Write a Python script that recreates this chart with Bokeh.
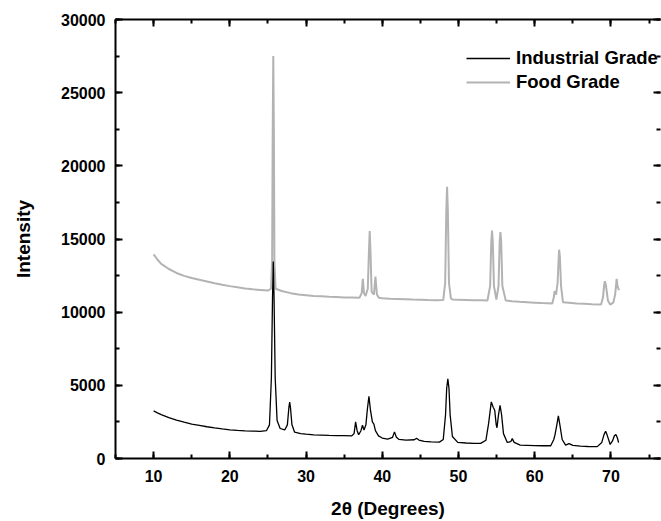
from bokeh.plotting import figure
from bokeh.models import (Range1d, LinearAxis, SingleIntervalTicker, Legend, LegendItem)
from bokeh.embed import file_html
from bokeh.resources import INLINE

# ---- data ----
ind_x = [10.0, 10.5, 11.0, 12.0, 13.0, 14.0, 15.0, 16.0, 17.0, 18.0, 19.0, 20.0, 21.0, 22.0, 23.0, 24.0,
         24.8, 25.2, 25.45, 25.6, 25.7, 25.8, 25.95, 26.2, 26.6, 27.2, 27.55, 27.75, 27.85, 27.95, 28.15,
         28.5, 29.3, 30.0, 31.0, 32.0, 33.0, 34.0, 35.0, 36.0, 36.3, 36.5, 36.7, 36.9, 37.2, 37.4, 37.6,
         37.85, 38.05, 38.25, 38.45, 38.7, 38.9, 39.1, 39.5, 40.0, 40.7, 41.35, 41.6, 41.85, 42.2, 43.1,
         44.2, 44.5, 44.8, 45.5, 46.4, 47.5, 48.0, 48.3, 48.45, 48.6, 48.75, 48.9, 49.2, 49.9, 51.0, 52.0,
         52.9, 53.6, 53.95, 54.3, 54.55, 54.75, 54.95, 55.05, 55.25, 55.45, 55.65, 55.9, 56.4, 56.85,
         57.05, 57.3, 58.1, 59.0, 60.0, 61.0, 62.1, 62.5, 62.65, 62.9, 63.1, 63.3, 63.6, 64.05, 64.5,
         65.0, 66.0, 67.0, 68.2, 68.8, 69.1, 69.3, 69.5, 69.9, 70.2, 70.45, 70.65, 70.85, 71.0]
ind_y = [3250, 3120, 3000, 2800, 2620, 2480, 2350, 2260, 2170, 2090, 2020, 1960, 1920, 1890, 1870, 1860,
         1900, 2300, 5500, 11000, 13470, 11000, 5500, 2600, 2050, 1950, 2300, 3500, 3860, 3500, 2300,
         1800, 1700, 1660, 1620, 1600, 1580, 1570, 1560, 1550, 1700, 2500, 1900, 1620, 1900, 2270, 1950,
         2300, 3400, 4250, 3300, 2500, 2350, 1900, 1550, 1400, 1330, 1450, 1820, 1450, 1300, 1250,
         1280, 1380, 1260, 1170, 1140, 1120, 1300, 3000, 4800, 5450, 4800, 3000, 1500, 1100, 1060, 1040,
         1030, 1250, 2400, 3870, 3500, 3300, 2300, 2100, 3000, 3640, 3000, 1700, 1100, 1150,
         1360, 1100, 920, 900, 880, 870, 870, 1300, 1600, 2300, 2910, 2300, 1300, 920, 1020,
         900, 850, 820, 810, 1100, 1650, 1860, 1600, 960, 1200, 1550, 1640, 1400, 1090]

food_x = [10.0, 10.5, 11.0, 12.0, 13.0, 14.0, 15.0, 16.0, 17.0, 18.0, 19.0, 20.0, 21.0, 22.0, 23.0,
          24.0, 25.0, 25.4, 25.55, 25.62, 25.7, 25.78, 25.85, 26.0, 26.8, 28.0, 29.0, 30.0, 31.0, 32.0,
          33.0, 34.0, 35.0, 36.0, 37.0, 37.3, 37.45, 37.6, 37.8, 38.1, 38.25, 38.35, 38.45, 38.6, 38.9,
          39.1, 39.3, 39.55, 40.0, 41.0, 42.0, 43.0, 44.0, 45.0, 46.0, 47.0, 48.0, 48.25, 48.4, 48.5,
          48.6, 48.75, 49.0, 49.2, 50.0, 51.0, 52.0, 53.0, 53.8, 54.15, 54.3, 54.4, 54.5, 54.65, 54.97,
          55.25, 55.4, 55.5, 55.6, 55.75, 56.2, 57.0, 58.0, 59.0, 60.0, 61.0, 62.3, 62.5, 62.6, 62.8,
          63.0, 63.15, 63.2, 63.3, 63.45, 63.7, 64.5, 65.5, 66.5, 67.5, 68.7, 68.95, 69.1, 69.2, 69.35,
          69.6, 69.9, 70.3, 70.55, 70.7, 70.75, 70.85, 71.05]
food_y = [13950, 13600, 13300, 12950, 12680, 12480, 12330, 12220, 12100, 11980, 11870, 11780, 11700,
          11620, 11560, 11520, 11480, 11600, 13500, 22000, 27500, 22000, 13500, 11600, 11450, 11300, 11200,
          11150, 11100, 11080, 11050, 11030, 11010, 11000, 10990, 11300, 12270, 11300, 11100, 11600, 14200,
          15550, 14200, 11400, 11200, 12430, 11200, 10980, 10950, 10920, 10900, 10880, 10860, 10850, 10830,
          10820, 10830, 12000, 17000, 18570, 17000, 12000, 10950, 10860, 10840, 10830, 10820, 10810, 10800,
          11800, 14800, 15570, 14800, 11800, 10860, 11800, 14800, 15480, 14800, 11800, 10790, 10750, 10710,
          10680, 10650, 10620, 10590, 11000, 11430, 11200, 12000, 13800, 14270, 13800, 11800, 10680, 10650,
          10600, 10570, 10540, 10520, 11000, 11800, 12110, 11800, 10800, 10520, 10650, 11200, 12000, 12270,
          11800, 11500]

series_names = ["Industrial Grade", "Food Grade"]
x_tick_values = [10, 20, 30, 40, 50, 60, 70]
y_tick_values = [0, 5000, 10000, 15000, 20000, 25000, 30000]
x_ticks_interval = 10
y_ticks_interval = 5000

FONT = "Liberation Sans"

p = figure(width=661, height=521, output_backend="svg", toolbar_location=None,
           x_range=Range1d(5, 76.5), y_range=Range1d(0, 30000),
           min_border_left=115, min_border_right=1, min_border_top=19, min_border_bottom=62,
           x_axis_label="2θ (Degrees)", y_axis_label="Intensity")
p.outline_line_color = None
p.xgrid.visible = False
p.ygrid.visible = False
p.background_fill_color = "white"
p.border_fill_color = "white"

r_food = p.line(food_x, food_y, line_color="#b3b3b3", line_width=2)
r_ind = p.line(ind_x, ind_y, line_color="black", line_width=1.3)

def style_axis(ax, labels=True, ticks=None):
    ax.axis_line_width = 2
    ax.axis_line_color = "black"
    ax.major_tick_in = 7
    ax.major_tick_out = 0
    ax.minor_tick_in = 4
    ax.minor_tick_out = 0
    ax.major_tick_line_width = 2
    ax.minor_tick_line_width = 2
    ax.major_tick_line_color = "black"
    ax.minor_tick_line_color = "black"
    if labels:
        ax.major_label_text_font = FONT
        ax.major_label_text_font_style = "bold"
        ax.major_label_text_font_size = "16px"
        ax.major_label_text_color = "black"
        ax.axis_label_text_font = FONT
        ax.axis_label_text_font_style = "bold"
        ax.axis_label_text_font_size = "19px"
        ax.axis_label_text_color = "black"
    else:
        ax.major_label_overrides = {v: "" for v in ticks}
        ax.major_label_standoff = 0
        ax.axis_label = None

xt = SingleIntervalTicker(interval=x_ticks_interval, num_minor_ticks=2)
yt = SingleIntervalTicker(interval=y_ticks_interval, num_minor_ticks=2)

p.xaxis[0].ticker = xt
p.yaxis[0].ticker = yt
style_axis(p.xaxis[0])
style_axis(p.yaxis[0])
p.xaxis[0].major_label_standoff = 11
p.xaxis[0].axis_label_standoff = 13
p.yaxis[0].major_label_standoff = 10
p.yaxis[0].axis_label_standoff = 24

top = LinearAxis(ticker=SingleIntervalTicker(interval=x_ticks_interval, num_minor_ticks=2))
style_axis(top, labels=False, ticks=x_tick_values)
p.add_layout(top, "above")

right = LinearAxis(ticker=SingleIntervalTicker(interval=y_ticks_interval, num_minor_ticks=2))
style_axis(right, labels=False, ticks=y_tick_values)
right.axis_line_color = None
p.add_layout(right, "right")

legend = Legend(items=[LegendItem(label=series_names[0], renderers=[r_ind]),
                       LegendItem(label=series_names[1], renderers=[r_food])],
                location=(351, 365))
legend.border_line_color = None
legend.background_fill_alpha = 0
legend.label_text_font = FONT
legend.label_text_font_style = "bold"
legend.label_text_font_size = "18.5px"
legend.label_text_color = "black"
legend.glyph_width = 44
legend.glyph_height = 20
legend.label_height = 20
legend.label_standoff = 6
legend.spacing = 2
legend.padding = 2
legend.margin = 0
p.add_layout(legend, "center")

open("out.html", "w").write(file_html(p, INLINE))
